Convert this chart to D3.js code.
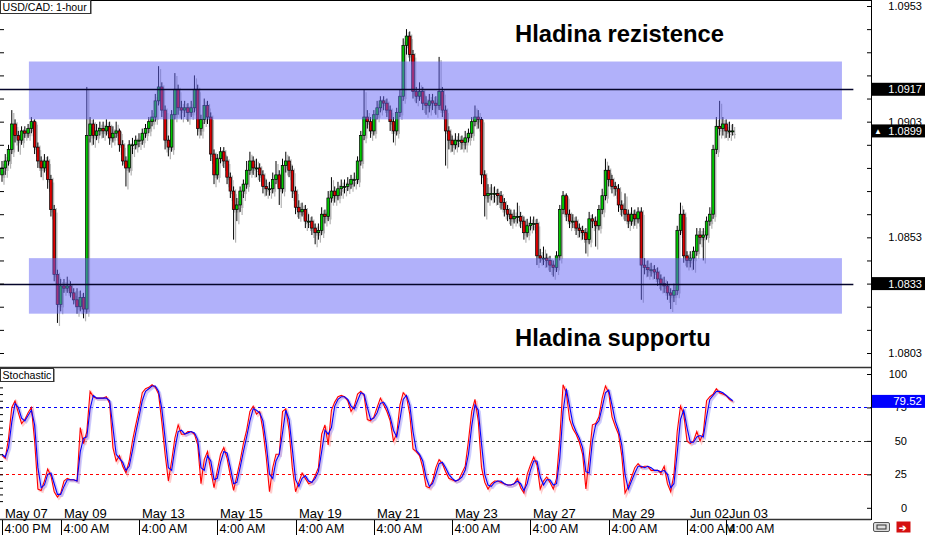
<!DOCTYPE html>
<html><head><meta charset="utf-8">
<script src="https://cdn.jsdelivr.net/npm/d3@7"></script>
<style>
body{margin:0;background:#fff}
svg{display:block;font-family:"Liberation Sans",Arial,sans-serif}
</style>
</head><body>
<svg id="chart" width="925" height="535"></svg>
<script>
// ---------- DATA (2-hour candles, USD/CAD) ----------
const opens = [
1.0880,1.0883,1.0886,1.0891,1.0902,1.0897,1.0895,1.0899,1.0898,1.0900,
1.0903,1.0892,1.0886,1.0883,1.0886,1.0878,1.0865,1.0837,1.0824,1.0832,
1.0831,1.0832,1.0829,1.0826,1.0823,1.0827,1.0822,1.0897,1.0902,1.0897,
1.0899,1.0900,1.0899,1.0901,1.0896,1.0898,1.0899,1.0893,1.0886,1.0883,
1.0893,1.0893,1.0895,1.0895,1.0898,1.0900,1.0903,1.0905,1.0912,1.0918,
1.0908,1.0895,1.0892,1.0906,1.0917,1.0909,1.0908,1.0909,1.0907,1.0909,
1.0917,1.0900,1.0904,1.0910,1.0905,1.0889,1.0880,1.0887,1.0890,1.0886,
1.0879,1.0873,1.0865,1.0867,1.0873,1.0876,1.0882,1.0886,1.0883,1.0883,
1.0880,1.0875,1.0874,1.0874,1.0878,1.0880,1.0874,1.0884,1.0886,1.0882,
1.0873,1.0866,1.0864,1.0865,1.0860,1.0860,1.0857,1.0855,1.0856,1.0863,
1.0862,1.0870,1.0873,1.0871,1.0874,1.0875,1.0875,1.0876,1.0878,1.0878,
1.0886,1.0897,1.0905,1.0903,1.0899,1.0906,1.0909,1.0912,1.0911,1.0908,
1.0903,1.0899,1.0907,1.0914,1.0936,1.0940,1.0932,1.0916,1.0914,1.0916,
1.0911,1.0910,1.0912,1.0911,1.0910,1.0916,1.0908,1.0899,1.0895,1.0893,
1.0895,1.0895,1.0894,1.0896,1.0898,1.0903,1.0905,1.0904,1.0880,1.0871,
1.0872,1.0872,1.0872,1.0871,1.0868,1.0865,1.0863,1.0861,1.0862,1.0862,
1.0860,1.0855,1.0858,1.0859,1.0859,1.0845,1.0844,1.0844,1.0843,1.0841,
1.0840,1.0845,1.0865,1.0871,1.0863,1.0860,1.0860,1.0857,1.0856,1.0855,
1.0852,1.0861,1.0860,1.0858,1.0865,1.0871,1.0882,1.0878,1.0875,1.0874,
1.0867,1.0865,1.0863,1.0860,1.0863,1.0861,1.0864,1.0841,1.0840,1.0839,
1.0839,1.0838,1.0835,1.0833,1.0832,1.0829,1.0828,1.0830,1.0856,1.0863,
1.0845,1.0843,1.0844,1.0847,1.0854,1.0853,1.0854,1.0860,1.0863,1.0891,
1.0901,1.0900,1.0902,1.0899,1.0899];
const highs = [
1.0886,1.0889,1.0893,1.0908,1.0904,1.0899,1.0901,1.0901,1.0902,1.0905,
1.0904,1.0894,1.0888,1.0889,1.0888,1.0880,1.0867,1.0839,1.0835,1.0835,
1.0836,1.0834,1.0831,1.0831,1.0830,1.0829,1.0918,1.0905,1.0904,1.0902,
1.0903,1.0903,1.0904,1.0903,1.0901,1.0903,1.0900,1.0895,1.0888,1.0895,
1.0896,1.0897,1.0898,1.0900,1.0902,1.0905,1.0908,1.0915,1.0927,1.0920,
1.0910,1.0897,1.0908,1.0924,1.0919,1.0912,1.0912,1.0911,1.0912,1.0923,
1.0919,1.0906,1.0913,1.0912,1.0907,1.0891,1.0889,1.0892,1.0892,1.0888,
1.0881,1.0875,1.0870,1.0875,1.0878,1.0886,1.0890,1.0888,1.0887,1.0885,
1.0882,1.0878,1.0877,1.0881,1.0886,1.0882,1.0887,1.0890,1.0888,1.0884,
1.0875,1.0869,1.0868,1.0867,1.0863,1.0862,1.0859,1.0859,1.0866,1.0865,
1.0873,1.0879,1.0875,1.0877,1.0878,1.0878,1.0879,1.0880,1.0881,1.0888,
1.0899,1.0917,1.0908,1.0905,1.0908,1.0912,1.0914,1.0914,1.0913,1.0910,
1.0905,1.0909,1.0917,1.0939,1.0943,1.0942,1.0934,1.0918,1.0920,1.0918,
1.0914,1.0915,1.0915,1.0914,1.0931,1.0918,1.0910,1.0901,1.0897,1.0898,
1.0898,1.0897,1.0899,1.0900,1.0905,1.0910,1.0908,1.0905,1.0882,1.0876,
1.0876,1.0875,1.0874,1.0873,1.0870,1.0867,1.0865,1.0865,1.0868,1.0864,
1.0862,1.0861,1.0862,1.0862,1.0861,1.0848,1.0849,1.0846,1.0845,1.0843,
1.0847,1.0867,1.0873,1.0872,1.0865,1.0863,1.0862,1.0859,1.0858,1.0857,
1.0864,1.0863,1.0862,1.0867,1.0874,1.0887,1.0884,1.0880,1.0877,1.0876,
1.0869,1.0872,1.0865,1.0866,1.0865,1.0866,1.0866,1.0844,1.0843,1.0842,
1.0841,1.0840,1.0837,1.0836,1.0834,1.0831,1.0833,1.0858,1.0868,1.0865,
1.0847,1.0847,1.0849,1.0857,1.0857,1.0857,1.0862,1.0866,1.0893,1.0905,
1.0912,1.0905,1.0904,1.0903,1.0902];
const lows = [
1.0877,1.0880,1.0884,1.0889,1.0894,1.0890,1.0893,1.0896,1.0896,1.0898,
1.0889,1.0883,1.0879,1.0881,1.0874,1.0862,1.0834,1.0816,1.0821,1.0829,
1.0829,1.0827,1.0824,1.0820,1.0821,1.0818,1.0820,1.0894,1.0893,1.0895,
1.0897,1.0896,1.0897,1.0893,1.0894,1.0896,1.0890,1.0884,1.0875,1.0881,
1.0889,1.0891,1.0892,1.0893,1.0896,1.0898,1.0901,1.0903,1.0910,1.0905,
1.0891,1.0888,1.0890,1.0904,1.0906,1.0904,1.0905,1.0903,1.0905,1.0907,
1.0897,1.0897,1.0902,1.0902,1.0886,1.0876,1.0878,1.0885,1.0883,1.0876,
1.0870,1.0852,1.0860,1.0864,1.0870,1.0874,1.0880,1.0880,1.0879,1.0877,
1.0872,1.0871,1.0871,1.0872,1.0876,1.0867,1.0872,1.0881,1.0879,1.0870,
1.0863,1.0861,1.0862,1.0857,1.0857,1.0854,1.0850,1.0852,1.0854,1.0859,
1.0860,1.0868,1.0868,1.0869,1.0871,1.0872,1.0873,1.0874,1.0875,1.0876,
1.0884,1.0895,1.0900,1.0896,1.0897,1.0904,1.0907,1.0908,1.0905,1.0899,
1.0894,1.0897,1.0905,1.0912,1.0932,1.0929,1.0913,1.0911,1.0912,1.0908,
1.0906,1.0907,1.0908,1.0906,1.0908,1.0905,1.0884,1.0891,1.0890,1.0891,
1.0892,1.0891,1.0891,1.0894,1.0896,1.0901,1.0900,1.0876,1.0862,1.0868,
1.0869,1.0868,1.0867,1.0865,1.0862,1.0860,1.0858,1.0859,1.0859,1.0857,
1.0852,1.0853,1.0856,1.0856,1.0841,1.0842,1.0841,1.0840,1.0838,1.0836,
1.0838,1.0843,1.0863,1.0860,1.0857,1.0857,1.0854,1.0853,1.0852,1.0846,
1.0850,1.0857,1.0849,1.0856,1.0863,1.0869,1.0875,1.0872,1.0871,1.0864,
1.0862,1.0860,1.0857,1.0858,1.0858,1.0859,1.0826,1.0837,1.0836,1.0836,
1.0835,1.0832,1.0830,1.0829,1.0826,1.0822,1.0825,1.0828,1.0854,1.0842,
1.0840,1.0840,1.0839,1.0845,1.0850,1.0843,1.0852,1.0858,1.0861,1.0889,
1.0897,1.0897,1.0896,1.0896,1.0897];
const closes = [
1.0883,1.0886,1.0891,1.0902,1.0897,1.0895,1.0899,1.0898,1.0900,1.0903,
1.0892,1.0886,1.0883,1.0886,1.0878,1.0865,1.0837,1.0824,1.0832,1.0831,
1.0832,1.0829,1.0826,1.0823,1.0827,1.0822,1.0897,1.0902,1.0897,1.0899,
1.0900,1.0899,1.0901,1.0896,1.0898,1.0899,1.0893,1.0886,1.0883,1.0893,
1.0893,1.0895,1.0895,1.0898,1.0900,1.0903,1.0905,1.0912,1.0918,1.0908,
1.0895,1.0892,1.0906,1.0917,1.0909,1.0908,1.0909,1.0907,1.0909,1.0917,
1.0900,1.0904,1.0910,1.0905,1.0889,1.0880,1.0887,1.0890,1.0886,1.0879,
1.0873,1.0865,1.0867,1.0873,1.0876,1.0882,1.0886,1.0883,1.0883,1.0880,
1.0875,1.0874,1.0874,1.0878,1.0880,1.0874,1.0884,1.0886,1.0882,1.0873,
1.0866,1.0864,1.0865,1.0860,1.0860,1.0857,1.0855,1.0856,1.0863,1.0862,
1.0870,1.0873,1.0871,1.0874,1.0875,1.0875,1.0876,1.0878,1.0878,1.0886,
1.0897,1.0905,1.0903,1.0899,1.0906,1.0909,1.0912,1.0911,1.0908,1.0903,
1.0899,1.0907,1.0914,1.0936,1.0940,1.0932,1.0916,1.0914,1.0916,1.0911,
1.0910,1.0912,1.0911,1.0910,1.0916,1.0908,1.0899,1.0895,1.0893,1.0895,
1.0895,1.0894,1.0896,1.0898,1.0903,1.0905,1.0904,1.0880,1.0871,1.0872,
1.0872,1.0872,1.0871,1.0868,1.0865,1.0863,1.0861,1.0862,1.0862,1.0860,
1.0855,1.0858,1.0859,1.0859,1.0845,1.0844,1.0844,1.0843,1.0841,1.0840,
1.0845,1.0865,1.0871,1.0863,1.0860,1.0860,1.0857,1.0856,1.0855,1.0852,
1.0861,1.0860,1.0858,1.0865,1.0871,1.0882,1.0878,1.0875,1.0874,1.0867,
1.0865,1.0863,1.0860,1.0863,1.0861,1.0864,1.0841,1.0840,1.0839,1.0839,
1.0838,1.0835,1.0833,1.0832,1.0829,1.0828,1.0830,1.0856,1.0863,1.0845,
1.0843,1.0844,1.0847,1.0854,1.0853,1.0854,1.0860,1.0863,1.0891,1.0901,
1.0900,1.0902,1.0899,1.0899,1.0899];
// Stochastic %K (red) and %D signal (blue), one value per candle
const stochK = [
39,37,52,75,80,71,63,66,71,75, 50,14,13,20,29,24,12,8,11,20,
22,21,21,20,60,48,57,87,83,82, 82,82,83,78,45,35,39,31,26,35,
50,62,73,86,89,90,92,90,85,64, 40,20,35,52,62,55,55,57,57,55,
47,18,36,42,28,15,28,40,45,37, 24,13,24,35,48,58,72,76,70,72,
58,38,12,30,40,40,72,74,58,30, 12,19,26,22,18,19,24,30,55,62,
47,73,79,83,84,83,80,72,76,85, 87,84,66,65,68,75,82,77,72,65,
50,55,77,86,83,70,44,42,39,30, 16,15,20,30,36,33,27,22,21,20,
21,26,31,50,72,81,65,30,19,14, 18,20,20,19,18,17,17,18,22,15,
11,25,32,38,32,14,20,23,19,14, 22,52,92,86,66,59,55,49,40,14,
38,62,63,68,82,91,86,68,61,55, 39,11,16,23,30,33,30,31,31,28,
28,28,26,31,18,12,25,57,76,70, 50,48,50,57,50,56,80,83,85,89,
86,85,84,81,79.52];
const stochD = [
40,38,45,64,78,75,67,65,69,73, 62,30,15,17,25,26,18,10,10,16,
21,21,21,20,42,52,53,74,84,82, 82,82,82,80,60,40,37,34,28,31,
43,56,68,80,87,89,91,91,87,74, 52,30,28,44,57,58,55,56,57,56,
51,30,28,39,35,21,22,34,42,41, 30,18,19,30,42,53,65,74,73,71,
65,48,25,22,35,40,56,73,66,44, 21,16,22,24,20,19,22,27,42,58,
55,60,76,81,83,83,81,76,74,80, 86,85,75,66,67,71,78,79,75,68,
58,53,66,81,84,77,57,43,40,35, 23,16,18,25,33,34,30,25,22,20,
21,23,28,40,61,77,73,48,25,17, 16,19,20,20,18,17,17,18,20,18,
13,18,28,35,35,23,17,21,21,17, 18,37,72,89,76,63,57,52,45,27,
26,50,62,65,75,86,88,77,65,58, 47,25,14,20,26,31,31,30,31,30,
28,28,27,28,25,15,18,41,66,73, 60,49,49,53,54,53,68,81,84,87,
87,86,84,82,80];
const hoursPerBar = 2;               // trading hours per candle
// x-axis labels: trading-hour offset from first bar, date row, time row
const tickHours = [0,36,84,132,180,228,276,324,372,420,444];
const tickDates = ["May 07","May 09","May 13","May 15","May 19","May 21","May 23","May 27","May 29","Jun 02","Jun 03"];
const tickTimes = ["4:00 PM","4:00 AM","4:00 AM","4:00 AM","4:00 AM","4:00 AM","4:00 AM","4:00 AM","4:00 AM","4:00 AM","4:00 AM"];
const priceLabels = [1.0953,1.0903,1.0853,1.0803];
const stochLabels = [100,75,50,25,0];
const stochLevels = [75,50,25];
const resistanceLevel = 1.0917, supportLevel = 1.0833;
const resistanceZone = [1.0904,1.0929], supportZone = [1.0820,1.0844];
const zoneHours = [16.5,515], levelLineEndHour = 522;
const lastPrice = 1.0899, lastStoch = 79.52;

// ---------- SCALES ----------
const svg = d3.select("#chart");
const plotRight = 871;
const x = d3.scaleLinear().domain([0,420]).range([2,687]);
const y = d3.scaleLinear().domain([1.0803,1.0953]).range([353,6]);
const ys = d3.scaleLinear().domain([0,100]).range([507.8,374]);

const bars = closes.map((c,i)=>({i,o:opens[i],h:highs[i],l:lows[i],c,x:x(i*hoursPerBar)}));

const defs = svg.append("defs");
defs.append("clipPath").attr("id","mainClip").append("rect").attr("x",0).attr("y",0).attr("width",plotRight).attr("height",367);
defs.append("clipPath").attr("id","stClip").append("rect").attr("x",0).attr("y",368).attr("width",plotRight).attr("height",151);

// ---------- MAIN PANEL ----------
const main = svg.append("g").attr("clip-path","url(#mainClip)");
const bw = 2.6;
const sh = main.append("g").attr("transform","translate(2,3)").attr("opacity",0.55);
sh.selectAll("line").data(bars).join("line")
  .attr("x1",d=>d.x).attr("x2",d=>d.x).attr("y1",d=>y(d.h)).attr("y2",d=>y(d.l))
  .attr("stroke","#777").attr("stroke-width",1.2);
sh.selectAll("rect").data(bars).join("rect")
  .attr("x",d=>d.x-bw/2).attr("width",bw)
  .attr("y",d=>y(Math.max(d.o,d.c))).attr("height",d=>Math.max(1,Math.abs(y(d.o)-y(d.c))))
  .attr("fill","#777");
const cg = main.append("g");
cg.selectAll("line").data(bars).join("line")
  .attr("x1",d=>d.x).attr("x2",d=>d.x).attr("y1",d=>y(d.h)).attr("y2",d=>y(d.l))
  .attr("stroke","#000").attr("stroke-width",1);
cg.selectAll("rect").data(bars).join("rect")
  .attr("x",d=>d.x-bw/2).attr("width",bw)
  .attr("y",d=>y(Math.max(d.o,d.c))).attr("height",d=>Math.max(1,Math.abs(y(d.o)-y(d.c))))
  .attr("fill",d=>d.c>=d.o?"#00c800":"#dc0000")
  .attr("stroke","#000").attr("stroke-width",0.7);

[resistanceZone,supportZone].forEach(z=>{
  main.append("rect").attr("x",x(zoneHours[0])).attr("width",x(zoneHours[1])-x(zoneHours[0]))
    .attr("y",y(z[1])).attr("height",y(z[0])-y(z[1]))
    .attr("fill","rgb(100,100,245)").attr("opacity",0.5);
});
[resistanceLevel,supportLevel].forEach(v=>{
  main.append("line").attr("x1",0).attr("x2",x(levelLineEndHour))
    .attr("y1",Math.round(y(v))+0.5).attr("y2",Math.round(y(v))+0.5)
    .attr("stroke","#05052a").attr("stroke-width",1.7);
});

svg.append("text").attr("x",515).attr("y",42).attr("font-size",23.8).attr("font-weight","bold")
  .attr("fill","#000").text("Hladina rezistence");
svg.append("text").attr("x",515).attr("y",346).attr("font-size",23.8).attr("font-weight","bold")
  .attr("fill","#000").text("Hladina supportu");

const minorPrice = d3.range(1.0803,1.09535,0.001);
svg.append("g").attr("transform",`translate(${plotRight},0)`)
  .call(d3.axisLeft(y).tickValues(minorPrice).tickSize(4).tickFormat(""))
  .call(g=>g.select(".domain").remove())
  .call(g=>g.selectAll("line").attr("stroke","#000"));
svg.append("g").attr("transform","translate(4,0)")
  .call(d3.axisLeft(y).tickValues(minorPrice).tickSize(4).tickFormat(""))
  .call(g=>g.select(".domain").remove())
  .call(g=>g.selectAll("line").attr("stroke","#000"));
svg.append("g").selectAll("text").data(priceLabels).join("text")
  .attr("x",922).attr("y",d=>y(d)+4).attr("text-anchor","end").attr("font-size",11)
  .attr("fill","#000").text(d=>d.toFixed(4));

function box(val,yy,fill,prefix){
  const g = svg.append("g");
  g.append("rect").attr("x",872).attr("y",yy-6.5).attr("width",53).attr("height",13).attr("fill",fill);
  g.append("text").attr("x",922).attr("y",yy+4).attr("text-anchor","end").attr("font-size",11)
    .attr("fill","#fff").text(val);
  if(prefix) g.append("text").attr("x",874).attr("y",yy+3.5).attr("font-size",8).attr("fill","#fff").text(prefix);
}
box(resistanceLevel.toFixed(4),y(resistanceLevel),"#000");
box(supportLevel.toFixed(4),y(supportLevel),"#000");
box(lastPrice.toFixed(4),y(lastPrice),"#000","▲");

// ---------- STOCHASTIC PANEL ----------
const st = svg.append("g").attr("clip-path","url(#stClip)");
const lvlColors = {75:"#0000ff",50:"#333",25:"#ff0000"};
st.selectAll("line.lvl").data(stochLevels).join("line").attr("class","lvl")
  .attr("x1",0).attr("x2",plotRight).attr("y1",d=>Math.round(ys(d))+0.5).attr("y2",d=>Math.round(ys(d))+0.5)
  .attr("stroke",d=>lvlColors[d]).attr("stroke-dasharray","3,3").attr("stroke-width",1);
const lineK = d3.line().x((d,i)=>x(i*hoursPerBar)).y(d=>ys(d));
st.append("path").attr("d",lineK(stochK)).attr("fill","none").attr("stroke","#ff9c9c")
  .attr("stroke-width",2.2).attr("opacity",0.5).attr("transform","translate(1.5,1.5)");
st.append("path").attr("d",lineK(stochD)).attr("fill","none").attr("stroke","#9c9cff")
  .attr("stroke-width",2.2).attr("opacity",0.5).attr("transform","translate(1.5,1.5)");
st.append("path").attr("d",lineK(stochK)).attr("fill","none").attr("stroke","#ff0000").attr("stroke-width",1.1);
st.append("path").attr("d",lineK(stochD)).attr("fill","none").attr("stroke","#0000ff").attr("stroke-width",1.1);

svg.append("g").attr("transform",`translate(${plotRight},0)`)
  .call(d3.axisLeft(ys).tickValues(stochLabels).tickSize(4).tickFormat(""))
  .call(g=>g.select(".domain").remove())
  .call(g=>g.selectAll("line").attr("stroke","#000"));
svg.append("g").attr("transform","translate(3,0)")
  .call(d3.axisLeft(ys).tickValues(d3.range(5,100,5)).tickSize(3).tickFormat(""))
  .call(g=>g.select(".domain").remove())
  .call(g=>g.selectAll("line").attr("stroke","#000"));
svg.append("g").selectAll("text").data(stochLabels).join("text")
  .attr("x",907).attr("y",d=>ys(d)+4).attr("text-anchor","end").attr("font-size",11)
  .attr("fill","#000").text(d=>d);
{
  const g = svg.append("g");
  g.append("rect").attr("x",872).attr("y",ys(lastStoch)-6.5).attr("width",53).attr("height",13).attr("fill","#0000ff");
  g.append("text").attr("x",922).attr("y",ys(lastStoch)+4).attr("text-anchor","end").attr("font-size",11.5)
    .attr("fill","#fff").text(lastStoch.toFixed(2));
}

// ---------- FRAME ----------
svg.append("line").attr("x1",0).attr("x2",plotRight).attr("y1",0.5).attr("y2",0.5).attr("stroke","#000");
svg.append("line").attr("x1",0).attr("x2",plotRight).attr("y1",367.5).attr("y2",367.5).attr("stroke","#333").attr("stroke-width",1.5);
svg.append("line").attr("x1",0).attr("x2",plotRight).attr("y1",519.5).attr("y2",519.5).attr("stroke","#333").attr("stroke-width",1.5);
svg.append("line").attr("x1",plotRight+0.5).attr("x2",plotRight+0.5).attr("y1",0).attr("y2",520).attr("stroke","#000");

const xg = svg.append("g");
tickHours.forEach((h,k)=>{
  const xx = Math.round(x(h))+0.5;
  xg.append("line").attr("x1",xx).attr("x2",xx).attr("y1",520).attr("y2",535).attr("stroke","#000");
  xg.append("text").attr("x",xx+2.5).attr("y",517.5).attr("font-size",13).attr("fill","#000").text(tickDates[k]);
  xg.append("text").attr("x",xx+2).attr("y",533).attr("font-size",12.5).attr("fill","#000").text(tickTimes[k]);
});

function tag(txt,yy,w){
  const g = svg.append("g");
  g.append("rect").attr("x",0.5).attr("y",yy+0.5).attr("width",w).attr("height",13).attr("fill","#fff").attr("stroke","#333");
  g.append("line").attr("x1",w+1.5).attr("x2",w+1.5).attr("y1",yy+1).attr("y2",yy+14).attr("stroke","#999");
  g.append("text").attr("x",2.5).attr("y",yy+11).attr("font-size",10.6).attr("fill","#000").text(txt);
}
tag("USD/CAD: 1-hour",0,90);
tag("Stochastic",368,53);

svg.append("rect").attr("x",873.5).attr("y",522.5).attr("width",16).attr("height",9).attr("rx",1.5)
  .attr("fill","#ddd").attr("stroke","#555");
svg.append("rect").attr("x",877).attr("y",525).attr("width",9).attr("height",4).attr("fill","none").attr("stroke","#333");
svg.append("rect").attr("x",896.5).attr("y",521.5).attr("width",14).attr("height",11).attr("fill","#d41010");
svg.append("text").attr("x",899).attr("y",530.5).attr("font-size",9).attr("font-weight","bold").attr("fill","#fff").text("➔");
</script>
</body></html>
